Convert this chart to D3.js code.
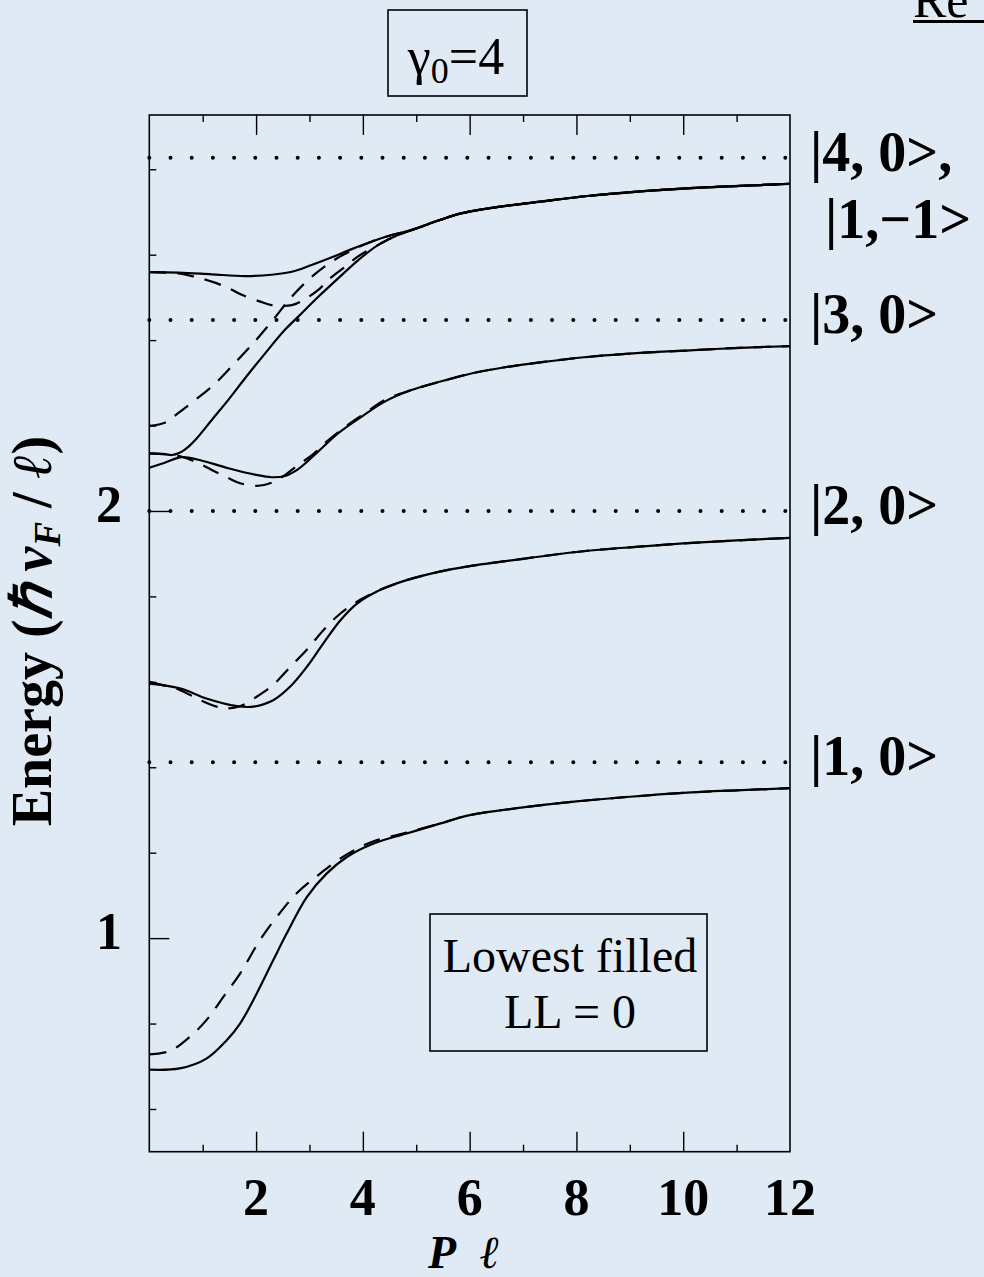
<!DOCTYPE html>
<html><head><meta charset="utf-8">
<script src="https://cdn.jsdelivr.net/npm/d3@7"></script>
<style>
html,body{margin:0;padding:0;background:#e0eaf5;}
svg{display:block;}
</style></head>
<body>
<svg id="chart" width="984" height="1277"></svg>
<script>
// ---------- data ----------
const xMajorTicks = [2, 4, 6, 8, 10];
const xMinorTicks = [1, 3, 5, 7, 9, 11];
const xTickLabels = [2, 4, 6, 8, 10, 12];
const yMajorTicks = [1, 2];
const yMinorTicks = [0.6, 0.8, 1.2, 1.4, 1.6, 1.8, 2.2, 2.4, 2.6, 2.8];
const yTickLabels = [1, 2];
const levelValues = [1.412, 2.0, 2.447, 2.827];
const levelLabels = ["|1, 0>", "|2, 0>", "|3, 0>", "|4, 0>,"];
const extraLabel = "|1,\u22121>";

// solid curves
const solidA = [[0,0.692],[0.57,0.695],[1.07,0.718],[1.45,0.761],[1.70,0.800],[2.01,0.870],[2.32,0.948],[2.57,1.010],[2.95,1.096],[3.32,1.151],[3.70,1.190],[4.19,1.221],[4.82,1.245],[5.44,1.268],[6.0,1.288],[7,1.306],[8,1.320],[9,1.331],[10,1.340],[11,1.346],[12,1.351]];
const solidB = [[0,1.596],[0.57,1.585],[1.07,1.561],[1.64,1.543],[1.95,1.542],[2.32,1.557],[2.64,1.589],[2.95,1.635],[3.26,1.690],[3.58,1.744],[3.89,1.783],[4.32,1.815],[4.82,1.838],[5.44,1.858],[6.0,1.871],[7,1.888],[8,1.904],[9,1.915],[10,1.924],[11,1.931],[12,1.937]];
const solidC1 = [[0,2.101],[0.29,2.113],[0.61,2.126],[0.92,2.120],[1.48,2.100],[1.98,2.085],[2.29,2.079],[2.54,2.082],[2.79,2.098],[3.17,2.140],[3.54,2.182],[3.98,2.221],[4.41,2.256],[4.91,2.283],[5.54,2.306],[6.07,2.323],[6.69,2.337],[7.32,2.348],[8.25,2.361],[9.19,2.370],[10.13,2.376],[11.06,2.382],[12,2.386]];
const solidC2 = [[0,2.135],[0.29,2.133],[0.42,2.131],[0.54,2.135],[0.61,2.139],[0.73,2.150],[0.86,2.166],[1.17,2.213],[1.48,2.260],[1.79,2.310],[2.17,2.369],[2.54,2.424],[2.79,2.455],[3.17,2.502],[3.54,2.545],[3.92,2.588],[4.29,2.623],[4.66,2.646],[4.92,2.658],[5.44,2.681],[5.82,2.696],[6.38,2.709],[7.32,2.724],[8.25,2.738],[9.19,2.748],[10.13,2.756],[11.06,2.761],[12,2.766]];
const solidD = [[0,2.559],[0.55,2.558],[1.17,2.554],[1.79,2.550],[2.29,2.553],[2.67,2.560],[3.04,2.576],[3.42,2.594],[3.79,2.613],[4.17,2.631],[4.54,2.646],[4.92,2.658],[5.44,2.681],[5.82,2.696],[6.38,2.709],[7.32,2.724],[8.25,2.738],[9.19,2.748],[10.13,2.756],[11.06,2.761],[12,2.766]];

// dashed curves
const dashedA = [[0,0.728],[0.39,0.736],[0.76,0.769],[1.07,0.808],[1.39,0.863],[1.70,0.917],[2.07,0.995],[2.39,1.050],[2.76,1.105],[3.20,1.151],[3.70,1.196],[4.19,1.226],[4.82,1.247],[5.44,1.268],[6.0,1.288],[7,1.306],[8,1.320],[9,1.331],[10,1.340],[11,1.346],[12,1.351]];
const dashedB = [[0,1.600],[0.57,1.581],[0.89,1.561],[1.26,1.542],[1.45,1.538],[1.70,1.543],[2.01,1.565],[2.32,1.593],[2.64,1.635],[2.95,1.675],[3.26,1.721],[3.58,1.760],[3.95,1.792],[4.32,1.815],[4.82,1.838],[5.44,1.858],[6.0,1.871],[7,1.888],[8,1.904],[9,1.915],[10,1.924],[11,1.931],[12,1.937]];
const dashedC1 = [[0,2.135],[0.3,2.133],[0.61,2.127],[0.92,2.112],[1.17,2.096],[1.48,2.077],[1.70,2.065],[2.04,2.059],[2.29,2.066],[2.54,2.084],[2.79,2.108],[3.04,2.130],[3.29,2.159],[3.67,2.197],[4.04,2.229],[4.41,2.260],[4.91,2.283],[5.54,2.306],[6.07,2.323],[6.69,2.337],[7.32,2.348],[8.25,2.361],[9.19,2.370],[10.13,2.376],[11.06,2.382],[12,2.386]];
const dashedC2 = [[0,2.199],[0.3,2.207],[0.54,2.229],[0.86,2.260],[1.17,2.291],[1.54,2.338],[1.92,2.389],[2.29,2.443],[2.67,2.502],[3.04,2.548],[3.42,2.584],[3.79,2.610],[4.17,2.631],[4.54,2.646],[4.92,2.658],[5.44,2.681],[5.82,2.696],[6.38,2.709],[7.32,2.724],[8.25,2.738],[9.19,2.748],[10.13,2.756],[11.06,2.761],[12,2.766]];
const dashedD = [[0,2.559],[0.55,2.556],[0.83,2.549],[1.17,2.537],[1.48,2.522],[1.73,2.506],[2.08,2.490],[2.29,2.482],[2.67,2.482],[2.89,2.494],[3.17,2.518],[3.35,2.541],[3.67,2.572],[3.91,2.596],[4.29,2.623],[4.66,2.646],[4.92,2.658],[5.44,2.681],[5.82,2.696],[6.38,2.709],[7.32,2.724],[8.25,2.738],[9.19,2.748],[10.13,2.756],[11.06,2.761],[12,2.766]];

const solidCurves = [solidA, solidB, solidC1, solidC2, solidD];
const dashedCurves = [dashedA, dashedB, dashedC1, dashedC2, dashedD];

// ---------- drawing ----------
const svg = d3.select("#chart");
const W = 984, H = 1277;
const L = 149.3, R = 790, T = 115, B = 1151.7;
const serif = "'Liberation Serif','Times New Roman',Times,serif";

svg.append("rect").attr("width", W).attr("height", H).attr("fill", "#e0eaf5");

const x = d3.scaleLinear().domain([0, 12]).range([L, R]);
const y = d3.scaleLinear().domain([0.5, 2.927]).range([B, T]);

svg.append("defs").append("clipPath").attr("id", "plotclip")
  .append("rect").attr("x", L).attr("y", T).attr("width", R - L).attr("height", B - T);

// dotted level lines
svg.append("g").selectAll("line").data(levelValues).join("line")
  .attr("x1", x(0)).attr("x2", x(12))
  .attr("y1", d => y(d)).attr("y2", d => y(d))
  .attr("stroke", "#000").attr("stroke-width", 4)
  .attr("stroke-linecap", "round")
  .attr("stroke-dasharray", "0,21.2");

// curves
const line = d3.line().x(d => x(d[0])).y(d => y(d[1])).curve(d3.curveCatmullRom.alpha(0.5));
const cg = svg.append("g").attr("clip-path", "url(#plotclip)");
cg.selectAll("path.solid").data(solidCurves).join("path").attr("class", "solid")
  .attr("d", line).attr("fill", "none").attr("stroke", "#000").attr("stroke-width", 2.2);
cg.selectAll("path.dashed").data(dashedCurves).join("path").attr("class", "dashed")
  .attr("d", line).attr("fill", "none").attr("stroke", "#000").attr("stroke-width", 2.2)
  .attr("stroke-dasharray", "17,11");

// axes ticks (no labels, built with d3 axes)
function ticks(gen, tr, vals, size) {
  const g = svg.append("g").attr("transform", tr)
    .call(gen.tickValues(vals).tickSize(size).tickSizeOuter(0).tickFormat(""));
  g.select(".domain").remove();
  g.selectAll(".tick line").attr("stroke", "#000").attr("stroke-width", 1.4);
}
ticks(d3.axisTop(x), `translate(0,${B})`, xMajorTicks, 20);
ticks(d3.axisTop(x), `translate(0,${B})`, xMinorTicks, 7);
ticks(d3.axisBottom(x), `translate(0,${T})`, xMajorTicks, 20);
ticks(d3.axisBottom(x), `translate(0,${T})`, xMinorTicks, 7);
ticks(d3.axisRight(y), `translate(${L},0)`, yMajorTicks, 20);
ticks(d3.axisRight(y), `translate(${L},0)`, yMinorTicks, 7);

// frame
svg.append("rect").attr("x", L).attr("y", T).attr("width", R - L).attr("height", B - T)
  .attr("fill", "none").attr("stroke", "#000").attr("stroke-width", 1.6);

// tick labels
svg.append("g").selectAll("text").data(xTickLabels).join("text")
  .attr("x", d => x(d)).attr("y", 1215)
  .attr("text-anchor", "middle").attr("font-family", serif).attr("font-weight", "bold")
  .attr("font-size", 52).text(d => d);
svg.append("g").selectAll("text").data(yTickLabels).join("text")
  .attr("x", 122).attr("y", d => y(d) + 11)
  .attr("text-anchor", "end").attr("font-family", serif).attr("font-weight", "bold")
  .attr("font-size", 52).text(d => d);

// level labels
svg.append("g").selectAll("text").data(levelValues).join("text")
  .attr("x", 810).attr("y", d => y(d) + 13)
  .attr("font-family", serif).attr("font-weight", "bold").attr("font-size", 56)
  .text((d, i) => levelLabels[i]);
svg.append("text").attr("x", 825).attr("y", 238)
  .attr("font-family", serif).attr("font-weight", "bold").attr("font-size", 56)
  .text(extraLabel);

// x title
const xt = svg.append("text").attr("y", 1268)
  .attr("font-family", serif).attr("font-weight", "bold").attr("font-style", "italic").attr("font-size", 46);
xt.append("tspan").attr("x", 428).text("P");
xt.append("tspan").attr("x", 480).text("\u2113");

// y title
const yt = svg.append("text").attr("transform", "translate(51,631) rotate(-90)")
  .attr("text-anchor", "middle").attr("font-family", serif).attr("font-weight", "bold").attr("font-size", 56);
yt.append("tspan").text("Energy (");
yt.append("tspan").attr("font-style", "italic").text("\u210F v");
yt.append("tspan").attr("font-style", "italic").attr("font-size", 37).attr("dy", 9).text("F");
yt.append("tspan").attr("dy", -9).text(" / ");
yt.append("tspan").attr("font-style", "italic").text("\u2113");
yt.append("tspan").text(")");

// gamma box
svg.append("rect").attr("x", 388).attr("y", 10).attr("width", 139).attr("height", 86)
  .attr("fill", "none").attr("stroke", "#000").attr("stroke-width", 1.6);
const gt = svg.append("text").attr("x", 456).attr("y", 74).attr("text-anchor", "middle")
  .attr("font-family", serif).attr("font-size", 52);
gt.append("tspan").text("\u03B3");
gt.append("tspan").attr("font-size", 36).attr("dy", 9).text("0");
gt.append("tspan").attr("dy", -9).text("=4");

// LL box
svg.append("rect").attr("x", 430).attr("y", 914).attr("width", 277).attr("height", 137)
  .attr("fill", "none").attr("stroke", "#000").attr("stroke-width", 1.6);
svg.append("text").attr("x", 570).attr("y", 972).attr("text-anchor", "middle")
  .attr("font-family", serif).attr("font-size", 48).text("Lowest filled");
svg.append("text").attr("x", 570).attr("y", 1028).attr("text-anchor", "middle")
  .attr("font-family", serif).attr("font-size", 48).text("LL = 0");

// cut-off heading fragment at top right
svg.append("text").attr("x", 913).attr("y", 17)
  .attr("font-family", serif).attr("font-size", 50).text("Re");
svg.append("rect").attr("x", 913).attr("y", 20).attr("width", 71).attr("height", 3).attr("fill", "#000");
</script>
</body></html>
